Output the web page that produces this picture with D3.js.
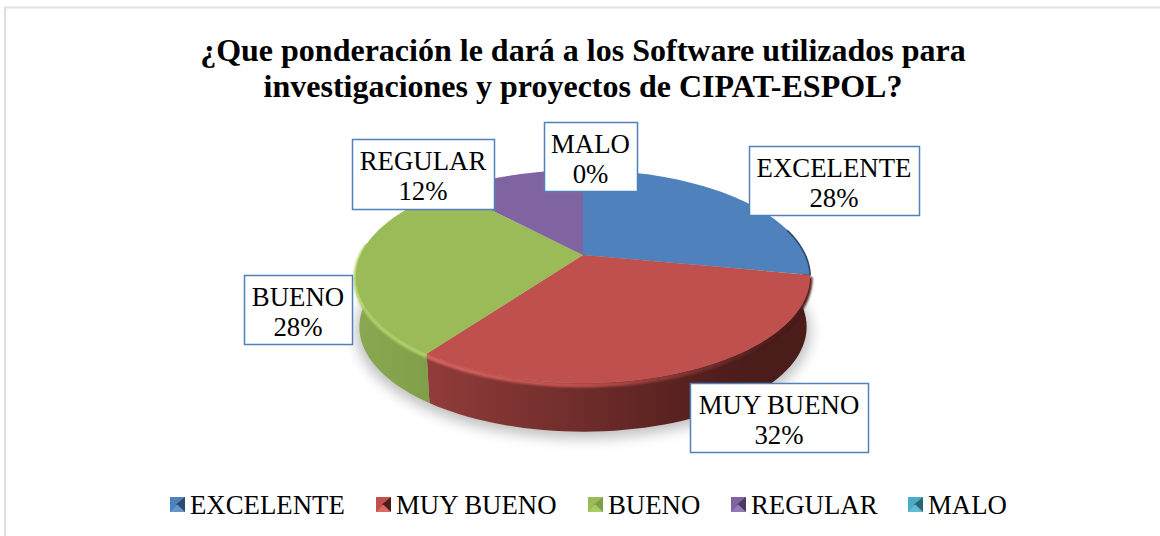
<!DOCTYPE html>
<html><head><meta charset="utf-8">
<script src="https://cdn.jsdelivr.net/npm/d3@7/dist/d3.min.js"></script>
<style>html,body{margin:0;padding:0;background:#fff}svg{display:block}</style>
</head><body><svg id="c" width="1160" height="536"></svg>
<script>
const titleLines = ["¿Que ponderación le dará a los Software utilizados para","investigaciones y proyectos de CIPAT-ESPOL?"];
const categories = ["EXCELENTE","MUY BUENO","BUENO","REGULAR","MALO"];
const values = [28,32,28,12,0];
const colors = ["#4f81bd","#c0504d","#9bbb59","#8064a2","#4bacc6"];
const wallLeft = ["#3a6088","#913c3a","#8aa851","#5e4a78","#35808f"];
const wallRight = ["#2c4a6b","#4a1c1a","#7f9c47","#4a3a60","#2a6672"];
const rimLeft = ["#6a9ad0","#e06e69","#aed067","#9a80bc","#66c0d8"];
const labelBoxes = [[749,146,170,69],[690,383,178,69],[244,275,108,69],[352,139,142,70],[544,122,93,69]];
const legendX = [170,376,588,731,908];

const svg = d3.select("#c");
const defs = svg.append("defs");
const F = "'Liberation Serif','Times New Roman',serif";
svg.append("path").attr("d","M5 536V7.5H1160").attr("fill","none").attr("stroke","#e0e0e0").attr("stroke-width",2.2);
svg.selectAll("text.t").data(titleLines).join("text").attr("class","t")
  .attr("x",583).attr("y",(d,i)=>61+i*36).attr("text-anchor","middle")
  .attr("font-family",F).attr("font-weight","bold").attr("font-size",32).attr("fill","#000").text(d=>d);

// disc projection, perspective foreshortened
const cx=583, cy=255, A=222.5, B=102.2, k=0.202, depth=51, botR=0.985;
const proj=(th,r=1,dy=0)=>{const u=r*Math.sin(th),v=-r*Math.cos(th),w=1-k*v;return [cx+A*u/w,cy+B*v/w+dy];};
const line=d3.line();
const arcPts=(a0,a1,r=1,dy=0)=>d3.range(0,61).map(i=>proj(a0+(a1-a0)*i/60,r,dy));
const arcs=d3.pie().sort(null).value(d=>d)(values);

const blur=(id,s)=>defs.append("filter").attr("id",id).attr("x","-20%").attr("y","-20%").attr("width","140%").attr("height","140%")
  .append("feGaussianBlur").attr("stdDeviation",s);
blur("blur",7); blur("soft",1.3);
svg.append("path").attr("d",line(arcPts(0,2*Math.PI,1,55))+"Z").attr("fill","#000").attr("opacity",.26).attr("filter","url(#blur)");

const PI=Math.PI;
// side walls: slices whose start lies on the visible front
arcs.forEach((a,i)=>{
  if(a.endAngle-a.startAngle<=0 || a.startAngle<PI/2) return;
  if(a.startAngle>=3*PI/2) return;
  const r0=a.startAngle<PI*0.6?a.startAngle-0.22:a.startAngle;
  const hi=Math.min(a.endAngle,3*PI/2+0.12);
  const g=defs.append("linearGradient").attr("id","w"+i).attr("gradientUnits","userSpaceOnUse")
    .attr("x1",355).attr("x2",811).attr("y1",0).attr("y2",0);
  g.append("stop").attr("offset",i==1?0.16:0).attr("stop-color",wallLeft[i]);
  g.append("stop").attr("offset",i==1?0.85:0.2).attr("stop-color",wallRight[i]);
  const top=arcPts(r0,hi), bot=arcPts(r0,hi,botR,depth).reverse();
  svg.append("path").attr("d",line(top.concat(bot))+"Z").attr("fill",`url(#w${i})`);
  const rg=defs.append("linearGradient").attr("id","r"+i).attr("gradientUnits","userSpaceOnUse")
    .attr("x1",355).attr("x2",811).attr("y1",0).attr("y2",0);
  rg.append("stop").attr("offset",0).attr("stop-color",rimLeft[i]);
  rg.append("stop").attr("offset",i==1?0.5:0.2).attr("stop-color",i==1?colors[i]:rimLeft[i]);
  rg.append("stop").attr("offset",0.92).attr("stop-color",wallRight[i]);
  svg.append("path").attr("d",line(arcPts(a.startAngle,hi,1,2))).attr("fill","none")
    .attr("stroke",`url(#r${i})`).attr("stroke-width",4.5).attr("filter","url(#soft)");
});

// top faces
arcs.forEach((a,i)=>{
  if(a.endAngle-a.startAngle<=0) return;
  svg.append("path").attr("d",line([[cx,cy]].concat(arcPts(a.startAngle,a.endAngle)))+"Z").attr("fill",colors[i]);
});
// darkened rim on the right of the first slice
arcs.slice(0,1).forEach((a,i)=>{
  svg.append("path").attr("d",line(arcPts(a.endAngle-0.45,a.endAngle,1,0.5))).attr("fill","none")
    .attr("stroke",wallRight[i]).attr("stroke-width",1.6);
});

// data labels
const boxes=svg.selectAll("g.lb").data(arcs).join("g").attr("class","lb");
boxes.append("rect").attr("x",(d,i)=>labelBoxes[i][0]+.5).attr("y",(d,i)=>labelBoxes[i][1]+.5)
  .attr("width",(d,i)=>labelBoxes[i][2]).attr("height",(d,i)=>labelBoxes[i][3])
  .attr("fill","#fff").attr("stroke","#4f81bd").attr("stroke-width",1.5);
boxes.append("text").attr("x",(d,i)=>labelBoxes[i][0]+labelBoxes[i][2]/2).attr("y",(d,i)=>labelBoxes[i][1]+31)
  .attr("text-anchor","middle").attr("font-family",F).attr("font-size",26.8).text((d,i)=>categories[i]);
boxes.append("text").attr("x",(d,i)=>labelBoxes[i][0]+labelBoxes[i][2]/2).attr("y",(d,i)=>labelBoxes[i][1]+61)
  .attr("text-anchor","middle").attr("font-family",F).attr("font-size",26.8).text(d=>d.data+"%");

// legend
const lg=svg.selectAll("g.lg").data(categories).join("g").attr("class","lg").attr("transform",(d,i)=>`translate(${legendX[i]},497)`);
const s=15,c=s/2,m=4;
lg.append("rect").attr("width",s).attr("height",s).attr("fill",(d,i)=>colors[i]);
lg.append("path").attr("d",`M${s} 0V${s}L${m+2} ${c}Z`).attr("fill",(d,i)=>wallRight[i]);
lg.append("path").attr("d",`M0 ${s}H${s}L${c} ${c}Z`).attr("fill",(d,i)=>rimLeft[i]).attr("opacity",.8);
lg.append("text").attr("x",20).attr("y",17).attr("font-family",F).attr("font-size",26.8).attr("fill","#000").text(d=>d);
</script></body></html>
